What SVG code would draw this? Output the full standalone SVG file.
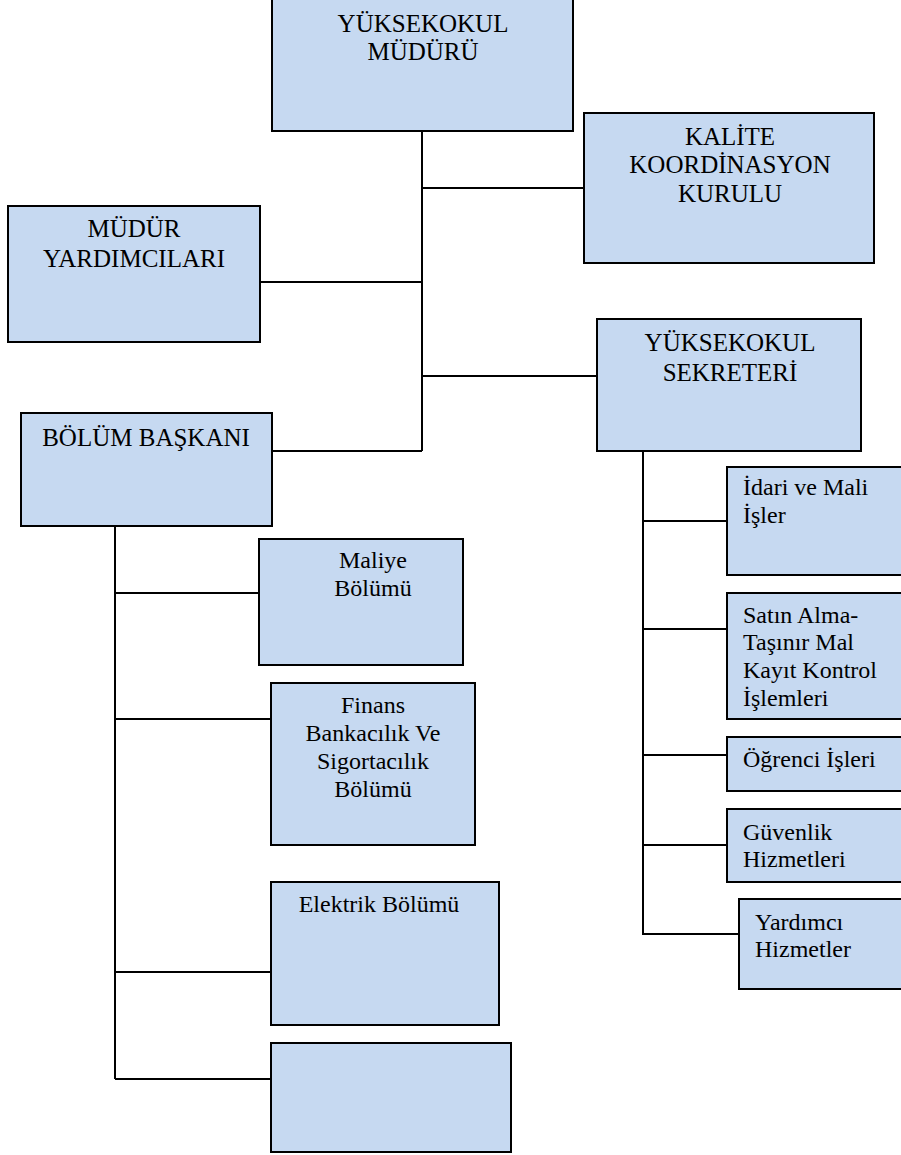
<svg xmlns="http://www.w3.org/2000/svg" width="901" height="1155" viewBox="0 0 901 1155">
<style>
.box{fill:#C6D9F1;stroke:#000;stroke-width:2}
.ln{stroke:#000;stroke-width:2;fill:none}
.t{font-family:"Liberation Serif","Times New Roman",serif;font-size:24px;fill:#000}
.c{text-anchor:middle;font-size:25px}
.m{text-anchor:middle}
</style>
<rect width="901" height="1155" fill="#fff"/>
<g id="connectors">
<path class="ln" d="M422,131V451M422,188H584M260,282H422M422,376H597M272,451H422"/>
<path class="ln" d="M115,526V1079M115,593H259M115,719H271M115,972H271M115,1079H271"/>
<path class="ln" d="M643,451V935M643,521H727M643,629H727M643,755H727M643,845H727M643,934H739"/>
</g>
<g id="mudur"><rect class="box" x="272" y="-2" width="301" height="133"/>
<text class="t c" x="423" y="32">YÜKSEKOKUL</text><text class="t c" x="423" y="60">MÜDÜRÜ</text></g>
<g id="kalite"><rect class="box" x="584" y="113" width="290" height="150"/>
<text class="t c" x="730" y="145">KALİTE</text><text class="t c" x="730" y="173">KOORDİNASYON</text><text class="t c" x="730" y="202">KURULU</text></g>
<g id="mudur-yardimcilari"><rect class="box" x="8" y="206" width="252" height="136"/>
<text class="t c" x="134" y="237">MÜDÜR</text><text class="t c" x="134" y="267">YARDIMCILARI</text></g>
<g id="sekreter"><rect class="box" x="597" y="319" width="264" height="132"/>
<text class="t c" x="730" y="351">YÜKSEKOKUL</text><text class="t c" x="730" y="381">SEKRETERİ</text></g>
<g id="bolum-baskani"><rect class="box" x="21" y="413" width="251" height="113"/>
<text class="t c" x="146" y="446">BÖLÜM BAŞKANI</text></g>
<g id="maliye"><rect class="box" x="259" y="539" width="204" height="126"/>
<text class="t m" x="373" y="568">Maliye</text><text class="t m" x="373" y="596">Bölümü</text></g>
<g id="finans"><rect class="box" x="271" y="683" width="204" height="162"/>
<text class="t m" x="373" y="713">Finans</text><text class="t m" x="373" y="741">Bankacılık Ve</text><text class="t m" x="373" y="769">Sigortacılık</text><text class="t m" x="373" y="797">Bölümü</text></g>
<g id="elektrik"><rect class="box" x="271" y="882" width="228" height="143"/>
<text class="t m" x="379" y="912">Elektrik Bölümü</text></g>
<g id="bos"><rect class="box" x="271" y="1043" width="240" height="109"/></g>
<g id="idari"><rect class="box" x="727" y="467" width="180" height="108"/>
<text class="t" x="743" y="495">İdari ve Mali</text><text class="t" x="743" y="523">İşler</text></g>
<g id="satin-alma"><rect class="box" x="727" y="593" width="180" height="126"/>
<text class="t" x="743" y="623">Satın Alma-</text><text class="t" x="743" y="650">Taşınır Mal</text><text class="t" x="743" y="678">Kayıt Kontrol</text><text class="t" x="743" y="706">İşlemleri</text></g>
<g id="ogrenci"><rect class="box" x="727" y="737" width="180" height="54"/>
<text class="t" x="743" y="767">Öğrenci İşleri</text></g>
<g id="guvenlik"><rect class="box" x="727" y="809" width="180" height="73"/>
<text class="t" x="743" y="840">Güvenlik</text><text class="t" x="743" y="867">Hizmetleri</text></g>
<g id="yardimci"><rect class="box" x="739" y="899" width="170" height="90"/>
<text class="t" x="755" y="930">Yardımcı</text><text class="t" x="755" y="957">Hizmetler</text></g>
</svg>
